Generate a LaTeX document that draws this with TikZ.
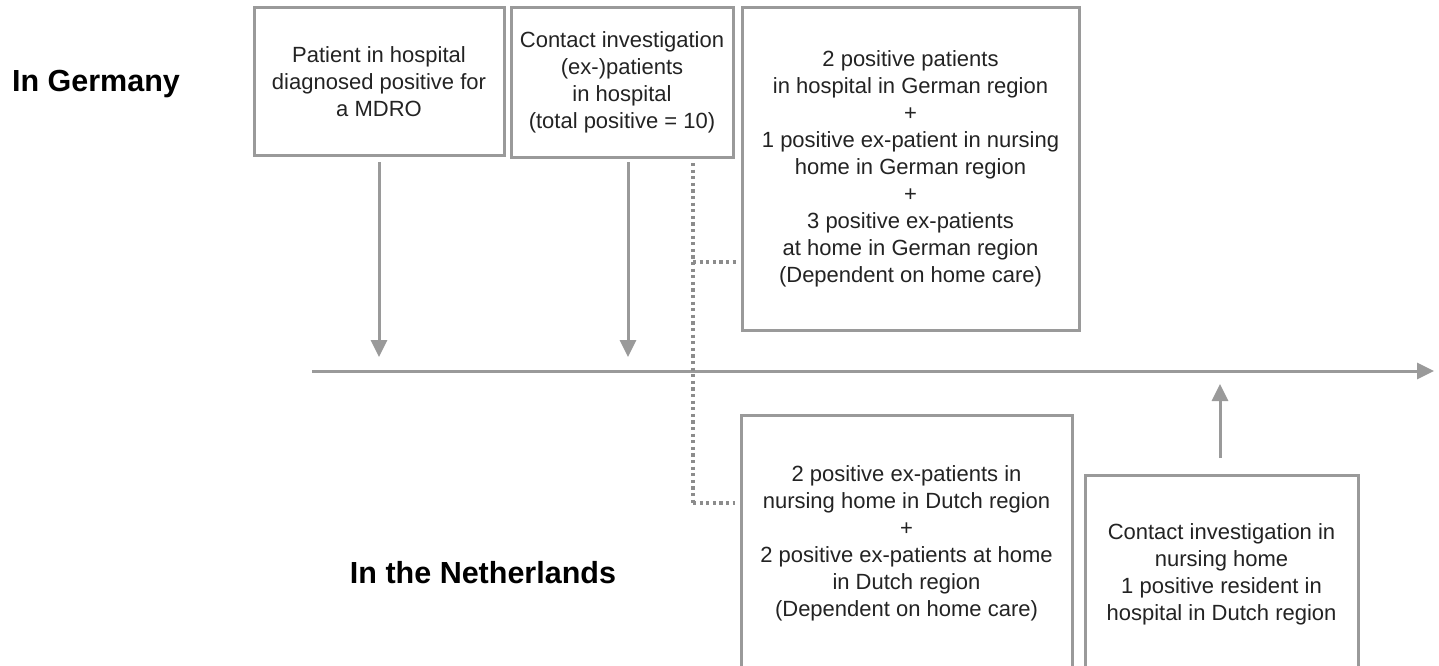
\documentclass[tikz,border=0pt]{standalone}
\usepackage{fontspec}
\setmainfont{Liberation Sans}
\usetikzlibrary{arrows.meta}
\definecolor{linegray}{HTML}{9A9A9A}
\definecolor{dotgray}{HTML}{8C8C8C}
\definecolor{txt}{HTML}{232323}
\tikzset{
  box/.style={draw=linegray, line width=3pt, inner sep=0pt, align=center, text=txt,
    font=\fontsize{22}{27}\selectfont},
  region/.style={font=\fontsize{30.5}{36}\selectfont\bfseries, text=black, inner sep=0pt},
  arr/.style={draw=linegray, line width=3pt, -{Triangle[length=17pt,width=16pt]}},
  dots/.style={draw=dotgray, line width=3.2pt, dash pattern=on 3.2pt off 3.4pt},
}
\begin{document}
\begin{tikzpicture}[x=1pt,y=-1pt]
\path[use as bounding box, clip] (0,0) rectangle (1439,666);
\fill[white] (0,0) rectangle (1439,666);

% region labels
\node[region] (ger) at (96,84) {In Germany};
\node[region] (nl) at (483,573) {In the Netherlands};

% boxes
\node[box, minimum width=250pt, minimum height=147pt] (b1) at (379,81.5)
  {Patient in hospital\\diagnosed positive for\\a MDRO};
\node[box, minimum width=222pt, minimum height=149pt] (b2) at (622,82.5)
  {Contact investigation\\(ex-)patients\\in hospital\\(total positive = 10)};
\node[box, minimum width=337pt, minimum height=322pt] (b3) at (910.5,169)
  {2 positive patients\\in hospital in German region\\+\\1 positive ex-patient in nursing\\home in German region\\+\\3 positive ex-patients\\at home in German region\\(Dependent on home care)};
\node[box, minimum width=331pt, minimum height=257pt] (b4) at (906.5,543.5)
  {2 positive ex-patients in\\nursing home in Dutch region\\+\\2 positive ex-patients at home\\in Dutch region\\(Dependent on home care)};
\node[box, minimum width=273pt, minimum height=198pt] (b5) at (1221.5,574)
  {Contact investigation in\\nursing home\\1 positive resident in\\hospital in Dutch region};

% timeline
\coordinate (tlstart) at (312,371);
\coordinate (tlend) at (1434,371);
\draw[arr] (tlstart) -- (tlend);

% down arrows
\coordinate (a1s) at (379,162);
\coordinate (a1e) at (379,357);
\coordinate (a2s) at (628,162);
\coordinate (a2e) at (628,357);
\draw[arr] (a1s) -- (a1e);
\draw[arr] (a2s) -- (a2e);

% up arrow
\coordinate (a3s) at (1220,458);
\coordinate (a3e) at (1220,384);
\draw[arr] (a3s) -- (a3e);

% dotted connectors
\coordinate (dtop) at (693,163);
\coordinate (dmid) at (693,262);
\coordinate (dbot) at (693,503);
\draw[dots] (dtop) -- (dbot);
\draw[dots] (dmid) -- ([xshift=-5pt]dmid -| b3.west);
\draw[dots] (dbot) -- ([xshift=-5pt]dbot -| b4.west);
\end{tikzpicture}
\end{document}
